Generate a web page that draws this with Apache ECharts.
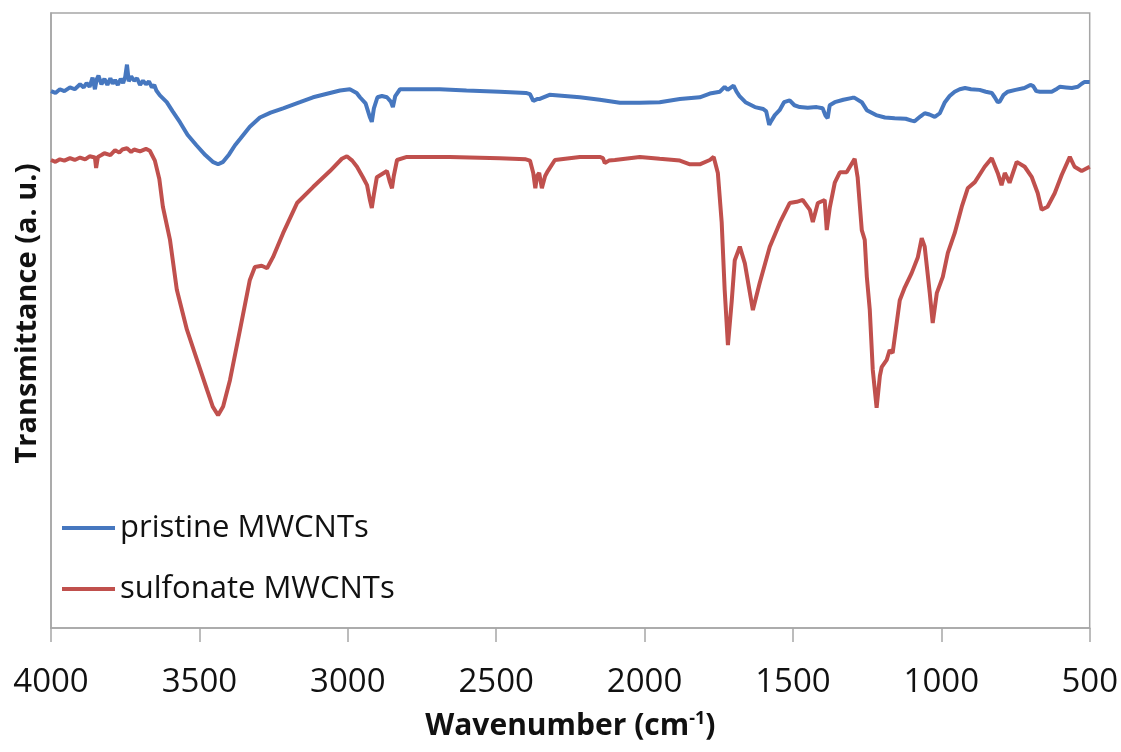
<!DOCTYPE html>
<html>
<head>
<meta charset="utf-8">
<title>FTIR MWCNTs</title>
<script src="https://cdn.jsdelivr.net/npm/echarts@6/dist/echarts.min.js"></script>
<style>
html, body { margin: 0; padding: 0; background: #fff; }
#main { width: 1121px; height: 752px; }
</style>
</head>
<body>
<div id="main"></div>
<script>
// ---- data (wavenumber cm-1, transmittance a.u.) ----
var seriesNames = ['pristine MWCNTs', 'sulfonate MWCNTs'];

var pristineWn = [4000, 3985, 3970, 3955, 3936, 3920, 3902, 3890, 3880, 3870, 3860, 3852, 3846, 3840, 3830, 3820, 3810, 3800, 3792, 3784,
    3775, 3765, 3757, 3750, 3744, 3738, 3730, 3720, 3710, 3700, 3690, 3680, 3670, 3660, 3652, 3645,
    3633, 3610, 3590, 3565, 3540, 3510, 3480, 3455, 3437, 3420, 3400, 3380, 3363, 3330, 3296, 3260, 3218, 3161, 3117, 3060,
    3026, 2993, 2970, 2959, 2940, 2925, 2919, 2912, 2900, 2885, 2868, 2855, 2848, 2840, 2824, 2750, 2690, 2600, 2488, 2400,
    2386, 2375, 2370, 2362, 2355, 2345, 2320, 2218, 2151, 2083, 2016, 1949, 1881, 1814, 1780, 1746, 1730, 1720, 1700, 1690,
    1680, 1660, 1628, 1600, 1590, 1580, 1575, 1561, 1545, 1530, 1511, 1495, 1477, 1450, 1420, 1400, 1390, 1383, 1376, 1359,
    1330, 1300, 1292, 1268, 1251, 1220, 1190, 1157, 1120, 1100, 1090, 1070, 1056, 1040, 1022, 1005, 988, 972, 955, 938,
    920, 900, 871, 850, 830, 820, 810, 803, 790, 776, 750, 720, 700, 690, 680, 668, 650, 628, 610, 600,
    580, 560, 540, 527, 517, 500];
var pristineT = [87.3, 87.0, 87.6, 87.3, 87.9, 87.6, 88.4, 87.9, 88.6, 88.0, 89.5, 87.6, 89.2, 89.8, 88.4, 89.3, 88.3, 89.4, 88.5, 89.1,
    88.3, 89.3, 88.6, 89.6, 91.6, 88.9, 89.7, 89.0, 89.4, 88.3, 89.0, 88.4, 88.9, 87.9, 88.3, 87.4,
    86.6, 85.5, 84.0, 82.2, 80.2, 78.5, 76.9, 75.8, 75.4, 75.8, 77.0, 78.5, 79.5, 81.5, 83.0, 83.8, 84.5, 85.5, 86.3, 87.0,
    87.4, 87.6, 87.0, 86.3, 85.3, 83.0, 82.3, 84.5, 86.3, 86.5, 86.3, 85.6, 84.7, 86.5, 87.6, 87.6, 87.6, 87.4, 87.2, 87.0,
    86.8, 85.7, 85.8, 86.0, 86.0, 86.2, 86.7, 86.3, 85.9, 85.4, 85.4, 85.5, 86.0, 86.3, 86.9, 87.2, 88.0, 87.5, 88.2, 87.2,
    86.5, 85.5, 84.7, 84.4, 84.0, 81.8, 82.3, 83.4, 84.2, 85.5, 85.8, 85.0, 84.7, 84.6, 84.7, 84.5, 83.3, 82.9, 85.0, 85.5,
    85.9, 86.2, 86.2, 85.5, 84.2, 83.4, 83.0, 82.9, 82.8, 82.5, 82.4, 83.2, 83.7, 83.5, 83.1, 83.7, 85.5, 86.5, 87.2, 87.6,
    87.8, 87.6, 87.5, 87.2, 87.0, 86.3, 85.5, 85.6, 86.7, 87.2, 87.5, 87.8, 88.3, 88.1, 87.3, 87.2, 87.2, 87.2, 87.7, 88.0,
    87.9, 87.8, 88.0, 88.5, 88.8, 88.8];

var sulfonateWn = [4000, 3985, 3970, 3955, 3936, 3920, 3902, 3885, 3870, 3852, 3848, 3842, 3830, 3820, 3800, 3784, 3770, 3760, 3744, 3730,
    3720, 3700, 3680, 3667, 3650, 3635, 3623, 3599,
    3576, 3542, 3508, 3474, 3455, 3437, 3420, 3397, 3363, 3330, 3313, 3290, 3272, 3252, 3218, 3171, 3117, 3060, 3020, 3003, 2985,
    2969, 2949, 2935, 2925, 2919, 2912, 2902, 2868, 2858, 2851, 2845, 2834, 2801, 2690, 2656, 2488, 2400, 2386, 2375, 2368,
    2362, 2355, 2346, 2335, 2326, 2302, 2218, 2151, 2140, 2134, 2120, 2100, 2016, 1949, 1881, 1847, 1814, 1780, 1767, 1753,
    1740, 1730, 1719, 1706, 1696, 1679, 1662, 1635, 1612, 1578, 1544, 1511, 1487, 1467, 1443, 1433, 1416, 1393, 1386, 1376,
    1359, 1342, 1319, 1292, 1282, 1268, 1258, 1251, 1241, 1231, 1218, 1207, 1201, 1184, 1174, 1164, 1140, 1123, 1100, 1079,
    1066, 1056, 1039, 1029, 1015, 995, 978, 955, 931, 911, 887, 854, 830, 810, 797, 786, 770, 746, 719, 695,
    675, 662, 642, 618, 594, 567, 551, 527, 500];
var sulfonateT = [76.1, 75.8, 76.2, 76.0, 76.4, 76.1, 76.5, 76.2, 76.7, 76.5, 74.8, 76.6, 76.9, 77.2, 76.9, 77.7, 77.3, 77.8, 78.0, 77.4,
    77.8, 77.5, 77.9, 77.6, 76.0, 73.0, 68.5, 63.1,
    55.0, 48.5, 43.6, 38.7, 36.0, 34.6, 36.0, 40.3, 48.5, 56.6, 58.7, 58.9, 58.5, 60.3, 64.2, 69.1, 71.7, 74.3, 76.3, 76.7, 76.0,
    75.0, 73.3, 72.0, 69.5, 68.3, 70.5, 73.3, 74.3, 72.5, 71.5, 73.5, 76.1, 76.6, 76.6, 76.6, 76.4, 76.2, 76.0, 74.0, 71.5,
    73.5, 74.0, 71.5, 73.5, 74.3, 76.1, 76.6, 76.6, 76.4, 75.6, 76.0, 76.1, 76.6, 76.3, 76.0, 75.4, 75.4, 76.1, 76.6, 74.0,
    65.9, 55.0, 46.0, 53.3, 59.8, 62.0, 59.3, 51.7, 56.1, 62.0, 65.9, 69.1, 69.3, 69.6, 68.0, 66.0, 69.1, 69.6, 64.7, 68.3,
    72.4, 74.1, 74.1, 76.3, 73.3, 64.7, 63.1, 57.1, 51.7, 42.0, 35.8, 41.0, 42.4, 43.6, 45.2, 44.7, 53.3, 55.4, 57.7, 60.3,
    63.4, 62.0, 54.5, 49.6, 54.5, 57.1, 61.0, 64.2, 68.5, 71.5, 72.5, 75.0, 76.4, 74.0, 72.0, 74.0, 72.4, 75.8, 75.0, 73.3,
    70.7, 68.0, 68.5, 70.7, 73.7, 76.6, 75.0, 74.3, 75.0];

function pairs(xs, ys) {
    return xs.map(function (x, i) { return [x, ys[i]]; });
}

var dom = document.getElementById('main');
var myChart = echarts.init(dom);
var option = null;

option = {
    backgroundColor: '#fff',
    animation: false,
    textStyle: { fontFamily: 'Open Sans' },
    grid: {
        left: 51,
        right: 31,
        top: 13,
        bottom: 124,
        show: true,
        borderColor: '#a6a6a6',
        borderWidth: 1.5
    },
    legend: {
        orient: 'vertical',
        left: 57,
        top: 506,
        icon: 'rect',
        itemWidth: 53,
        itemHeight: 4,
        itemGap: 27,
        textStyle: { fontSize: 31, color: '#111', lineHeight: 34 },
        data: seriesNames
    },
    xAxis: {
        type: 'value',
        min: 500,
        max: 4000,
        interval: 500,
        inverse: true,
        name: 'Wavenumber (cm{sup|-1})',
        nameLocation: 'middle',
        nameGap: 82,
        nameTextStyle: {
            fontSize: 30,
            fontWeight: 'bold',
            color: '#111',
            rich: {
                sup: { fontSize: 18, fontWeight: 'bold', color: '#111', verticalAlign: 'top', padding: [0, 0, 14, 0] }
            }
        },
        axisLine: { lineStyle: { color: '#a6a6a6', width: 1.5 } },
        axisTick: { show: true, inside: false, length: 14, lineStyle: { color: '#a6a6a6', width: 1.5 } },
        axisLabel: {
            fontSize: 33,
            color: '#111',
            margin: 38,
            formatter: function (v) { return String(v); }
        },
        splitLine: { show: false }
    },
    yAxis: {
        type: 'value',
        min: 0,
        max: 100,
        name: 'Transmittance (a. u.)',
        nameLocation: 'middle',
        nameGap: 9,
        nameTextStyle: { fontSize: 29, fontWeight: 'bold', color: '#111', padding: [0, 0, 0, 14] },
        axisLine: { show: true, lineStyle: { color: '#a6a6a6', width: 1.5 } },
        axisTick: { show: false },
        axisLabel: { show: false },
        splitLine: { show: false }
    },
    series: [
        {
            name: seriesNames[0],
            type: 'line',
            showSymbol: false,
            color: '#4677bf',
            lineStyle: { width: 4, color: '#4677bf' },
            data: pairs(pristineWn, pristineT)
        },
        {
            name: seriesNames[1],
            type: 'line',
            showSymbol: false,
            color: '#c0504d',
            lineStyle: { width: 4, color: '#c0504d' },
            data: pairs(sulfonateWn, sulfonateT)
        }
    ]
};

if (option && typeof option === 'object') {
    myChart.setOption(option, true);
}
</script>
</body>
</html>
